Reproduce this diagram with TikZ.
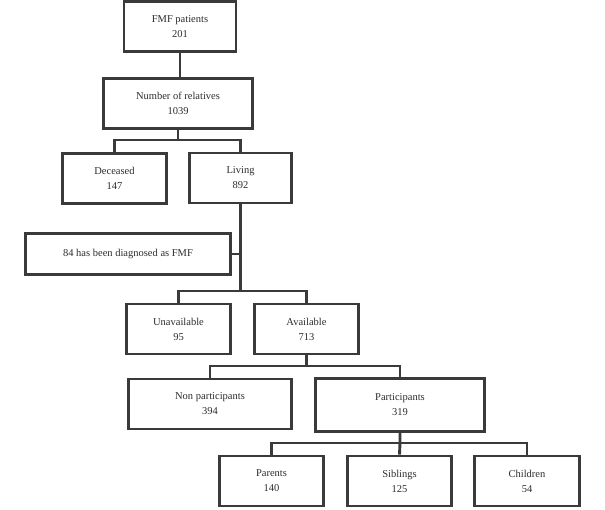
\documentclass[tikz,border=0pt]{standalone}
\usepackage{fontspec}
\setmainfont{Liberation Serif}
\usepackage{xcolor}
\definecolor{boxline}{RGB}{58,58,58}
\definecolor{boxtext}{RGB}{45,45,45}

\begin{document}
\begin{tikzpicture}[x=1pt, y=-1pt,
  box/.style={draw=boxline, line width=2.7pt, fill=white, inner sep=0pt,
    align=center, text=boxtext, font=\fontsize{10.5}{15}\selectfont,
    minimum height=50pt},
  link/.style={draw=boxline, line width=2.9pt}]
  \useasboundingbox (0,0) rectangle (605,509);

  % Top of the chart
  \node[box, minimum width=112pt] (fmf) at (180, 26.5) {FMF patients\\201};
  \node[box, minimum width=149pt] (rel) at (178, 103.5) {Number of relatives\\1039};

  % Deceased / living
  \node[box, minimum width=104pt] (dec) at (114.5, 178.5) {Deceased\\147};
  \node[box, minimum width=102pt] (liv) at (240.5, 178) {Living\\892};

  % Side note
  \node[box, minimum width=205pt, minimum height=41pt] (diag) at (128, 254) {84 has been diagnosed as FMF};

  % Unavailable / available
  \node[box, minimum width=104pt] (unav) at (178.5, 329) {Unavailable\\95};
  \node[box, minimum width=104pt] (avail) at (306.5, 329) {Available\\713};

  % Non participants / participants
  \node[box, minimum width=163pt] (nonp) at (210, 404) {Non participants\\394};
  \node[box, minimum width=169pt, minimum height=53pt] (part) at (400, 405) {Participants\\319};

  % Relatives who took part
  \node[box, minimum width=104pt] (par) at (271.5, 481) {Parents\\140};
  \node[box, minimum width=104pt] (sib) at (399.5, 481) {Siblings\\125};
  \node[box, minimum width=105pt] (chi) at (527, 481) {Children\\54};

  % Branch points
  \coordinate (br1) at (178, 140);
  \coordinate (br2) at (240.5, 291);
  \coordinate (br3) at (306.5, 366);
  \coordinate (br4) at (400, 443);

  % Connectors
  \draw[link] (fmf.south) -- (fmf.south |- rel.north);
  \draw[link] (rel.south) -- (rel.south |- br1);
  \draw[link] (dec.north) |- (br1) -| (liv.north);
  \draw[link] (liv.south) -- (br2);
  \draw[link] (diag.east) -- (diag.east -| liv.south);
  \draw[link] (unav.north) |- (br2) -| (avail.north);
  \draw[link] (avail.south) -- (br3);
  \draw[link] (nonp.north) |- (br3) -| (part.north);
  \draw[link] (part.south) -- (br4) -- (sib.north);
  \draw[link] (par.north) |- (br4) -| (chi.north);

\end{tikzpicture}
\end{document}
